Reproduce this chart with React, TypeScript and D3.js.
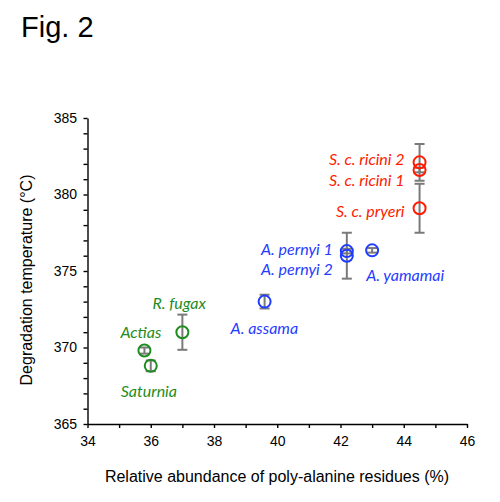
import React, { useRef, useEffect } from 'react';
import * as d3 from 'd3';

// one entry per silk sample
const species = ['S. c. ricini 2', 'S. c. ricini 1', 'S. c. pryeri', 'A. pernyi 1', 'A. pernyi 2', 'A. yamamai', 'A. assama', 'R. fugax', 'Actias', 'Saturnia'];
const alanine = [44.5, 44.5, 44.5, 42.2, 42.2, 43.0, 39.6, 37.0, 35.8, 36.0];
const temperature = [382.1, 381.6, 379.1, 376.3, 376.0, 376.35, 373.0, 371.0, 369.8, 368.8];
const tempError = [1.2, 0.15, 1.6, 0.15, 1.5, 0.15, 0.45, 1.15, 0.2, 0.35];
const genus = ['Samia', 'Samia', 'Samia', 'Antheraea', 'Antheraea', 'Antheraea', 'Antheraea', 'other', 'other', 'other'];

const xTicks = d3.range(34, 47, 1);
const yTicks = d3.range(365, 386, 1);

const colors = { Samia: '#ff1a00', Antheraea: '#1f3cff', other: '#1e8c1e' };
// label placement relative to the marker (px) and anchor
const labelOffset = [
  [-15, 3, 'end'], [-15, 16, 'end'], [-15, 9, 'end'],
  [-14, 4, 'end'], [-14, 19, 'end'], [-6, 31, 'start'],
  [-34, 32, 'start'], [-30, -23, 'start'], [-24, -13, 'start'], [-30, 31, 'start'],
];

const width = 500;
const height = 502;
const margin = { top: 118, right: 33, bottom: 78, left: 87.5 };

const App = () => {
  const ref = useRef(null);

  useEffect(() => {
    const svg = d3.select(ref.current);
    svg.selectAll('*').remove();

    const x = d3.scaleLinear().domain([34, 46]).range([margin.left, width - margin.right]);
    const y = d3.scaleLinear().domain([365, 385]).range([height - margin.bottom, margin.top]);

    const data = species.map((name, i) => ({
      name, x: alanine[i], y: temperature[i], err: tempError[i], c: colors[genus[i]], off: labelOffset[i],
    }));

    svg.append('text')
      .attr('x', 21).attr('y', 37)
      .attr('font-family', '"Liberation Sans", Arial, sans-serif')
      .attr('font-size', 29)
      .text('Fig. 2');

    // axes
    const xAxis = svg.append('g')
      .attr('transform', `translate(0,${y(365)})`)
      .call(d3.axisBottom(x).tickValues(xTicks).tickSize(4).tickSizeOuter(0).tickPadding(8)
        .tickFormat(d => (d % 2 === 0 ? String(d) : '')));
    const yAxis = svg.append('g')
      .attr('transform', `translate(${x(34)},0)`)
      .call(d3.axisLeft(y).tickValues(yTicks).tickSize(4).tickSizeOuter(0).tickPadding(6.5)
        .tickFormat(d => (d % 5 === 0 ? String(d) : '')));
    [xAxis, yAxis].forEach(g => {
      g.selectAll('path, line').attr('stroke', '#000').attr('stroke-width', 1.4);
      g.selectAll('text').attr('font-family', '"Liberation Sans", Arial, sans-serif').attr('font-size', 14).attr('fill', '#000');
    });

    svg.append('text')
      .attr('x', 277).attr('y', 482)
      .attr('text-anchor', 'middle')
      .attr('font-family', '"Liberation Sans", Arial, sans-serif')
      .attr('font-size', 16)
      .text('Relative abundance of poly-alanine residues (%)');

    svg.append('text')
      .attr('transform', 'translate(32,280) rotate(-90)')
      .attr('text-anchor', 'middle')
      .attr('font-family', '"Liberation Sans", Arial, sans-serif')
      .attr('font-size', 16)
      .text('Degradation temperature (°C)');

    // error bars
    const bars = svg.append('g').attr('stroke', '#7a7a7a').attr('stroke-width', 2);
    data.forEach(d => {
      const cx = x(d.x);
      bars.append('line').attr('x1', cx).attr('x2', cx).attr('y1', y(d.y - d.err)).attr('y2', y(d.y + d.err));
      [d.y - d.err, d.y + d.err].forEach(v => {
        bars.append('line').attr('x1', cx - 5).attr('x2', cx + 5).attr('y1', y(v)).attr('y2', y(v));
      });
    });

    // markers
    svg.append('g')
      .selectAll('circle')
      .data(data)
      .join('circle')
      .attr('cx', d => x(d.x))
      .attr('cy', d => y(d.y))
      .attr('r', 6)
      .attr('fill', 'none')
      .attr('stroke', d => d.c)
      .attr('stroke-width', 2);

    svg.append('g')
      .selectAll('text')
      .data(data)
      .join('text')
      .attr('x', d => x(d.x) + d.off[0])
      .attr('y', d => y(d.y) + d.off[1])
      .attr('text-anchor', d => d.off[2])
      .attr('font-family', 'Lato, "Open Sans", sans-serif')
      .attr('font-style', 'italic')
      .attr('font-size', 16)
      .attr('fill', d => d.c)
      .text(d => d.name);
  }, []);

  return (
    <svg ref={ref} width={width} height={height} style={{ position: 'absolute', left: 0, top: 0, background: '#fff' }}></svg>
  );
};

export default App;
